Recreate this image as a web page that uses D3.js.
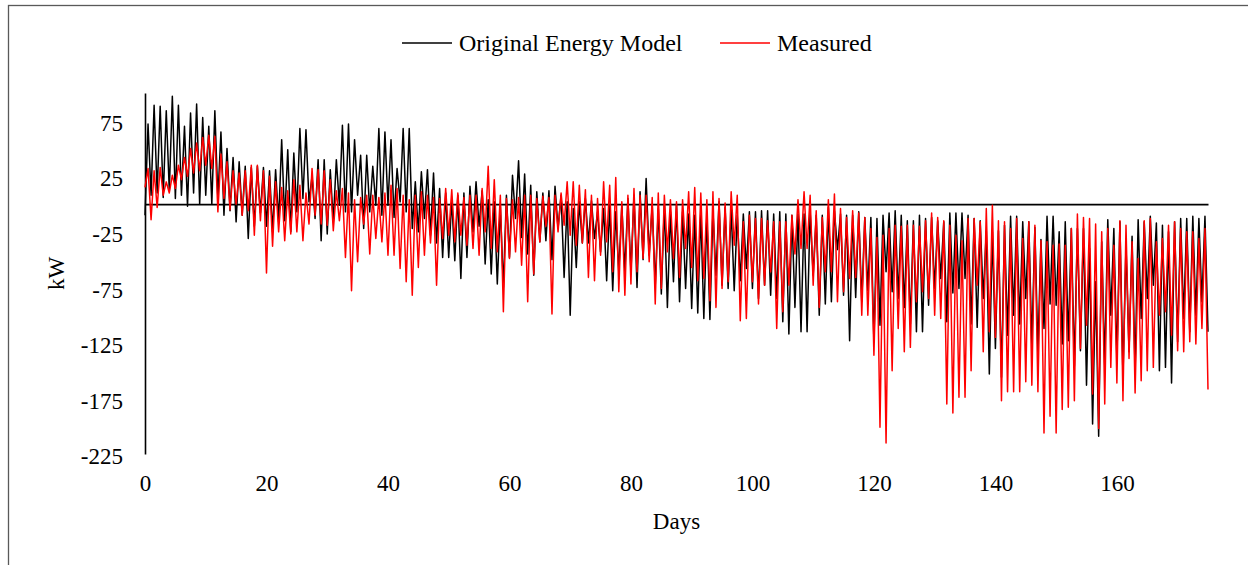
<!DOCTYPE html>
<html lang="en">
<head>
<meta charset="utf-8">
<script type="text/javascript" src="https://cdn.jsdelivr.net/npm/d3@7/dist/d3.min.js"></script>
<title>Original Energy Model vs Measured</title>
<style>
	body { margin: 0; background: #fff; }
	text { font-family: "Liberation Serif", "Times New Roman", serif; fill: #000; }
</style>
</head>
<body>
<svg width="1248" height="565"></svg>
<script type="text/javascript">

// one sample every half day: daily low, daily high, ...
var step = 0.5;

var originalModel = [
	-10,72, 8,89, 10,88, 6,84, 12,97, 5,89, 8,70, -2,82, 10,90, 0,78,
	8,70, 0,84, 5,65, -10,50, -6,42, -16,38, -10,34, -31,33, -20,34, -8,33,
	-20,30, -25,31, -16,58, -15,49, -25,46, -7,68, 5,67, 2,25, -13,40, -33,40,
	-27,31, -16,40, -1,71, -7,72, -7,58, 8,44, -22,44, -7,34, -1,68, -10,65,
	-1,58, -12,32, 2,68, -7,68, -22,20, -25,29, -13,31, -28,28, -35,14, -48,10,
	-48,4, -51,8, -67,10, -48,16, -25,20, -20,12, -54,4, -63,2, -72,-2, -75,8,
	-48,26, -13,39, -30,27, -45,17, -64,11, -34,10, -33,12, -50,16, -22,8, -66,2,
	-100,-4, -57,2, -35,5, -35,3, -31,-7, -43,-4, -69,-1, -78,-7, -61,-1, -61,5,
	-61,8, -75,11, -50,23, -46,-1, -73,-4, -81,-1, -93,-7, -70,-1, -88,-7, -76,-9,
	-94,-10, -98,-7, -103,-10, -104,-6, -64,2, -73,-3, -76,-4, -78,-10, -69,-9, -58,-7,
	-76,-7, -85,-6, -73,-6, -82,-9, -85,-7, -106,-9, -117,-10, -93,-9, -115,-9, -115,-7,
	-64,-10, -100,-10, -90,-3, -88,-6, -41,-9, -82,-10, -123,-10, -84,-7, -88,-12, -78,-12,
	-124,-13, -109,-10, -61,-8, -79,-6, -85,-10, -93,-15, -108,-15, -115,-10, -115,-13, -91,-12,
	-76,-15, -67,-16, -106,-8, -80,-8, -76,-8, -67,-10, -108,-13, -111,-15, -85,-24, -153,-25,
	-130,-24, -156,-19, -118,-11, -100,-11, -108,-16, -85,-16, -127,-21, -133,-32, -112,-11, -90,-11,
	-91,-25, -126,-16, -123,-22, -146,-22, -132,-22, -163,-40, -198,-70, -209,-34, -145,-14, -100,-22,
	-140,-16, -156,-37, -133,-29, -150,-14, -103,-16, -85,-11, -73,-17, -150,-19, -147,-25, -161,-16,
	-124,-13, -103,-13, -115,-11, -100,-13, -88,-11, -115
];

var measured = [
	15,32, -14,30, -3,33, 8,20, 10,26, 14,35, 22,42, 25,50, 28,55, 30,60,
	35,62, 32,61, -7,45, 5,38, -5,30, 0,28, -10,30, -6,35, -28,35, -15,30,
	-62,25, -38,20, -25,15, -33,12, -27,22, -25,17, -33,10, -18,32, -10,31, -18,30,
	-19,22, -24,12, -15,14, -48,10, -78,4, -52,6, -18,8, -45,8, -31,6, -34,10,
	-46,17, -46,14, -58,8, -70,4, -82,8, -57,11, -46,8, -35,6, -73,5, -31,14,
	-28,13, -34,10, -28,6, -37,8, -40,8, -46,14, -25,34, -40,22, -43,8, -97,5,
	-49,4, -43,6, -55,8, -88,8, -63,5, -34,7, -20,6, -99,8, -25,10, -19,20,
	-28,20, -37,17, -35,13, -66,8, -69,5, -46,20, -34,17, -61,24, -79,2, -82,8,
	-72,14, -61,8, -49,8, -52,6, -90,10, -76,8, -43,4, -49,2, -66,4, -40,11,
	-57,15, -69,10, -67,4, -87,11, -93,5, -76,1, -70,11, -37,8, -105,-16, -103,-10,
	-70,-13, -90,-13, -73,-15, -61,-16, -112,-16, -97,-16, -73,-10, -45,4, -40,11, -40,8,
	-73,-6, -93,-12, -61,4, -61,9, -88,-4, -79,-12, -67,-6, -66,-8, -100,-12, -100,-22,
	-136,-30, -201,-28, -215,-22, -150,-19, -112,-20, -133,-19, -129,-19, -88,-20, -79,-15, -85,-8,
	-100,-12, -103,-15, -180,-19, -188,-28, -174,-33, -174,-13, -150,-13, -73,-16, -133,-4, -115,-1,
	-120,-15, -177,-16, -169,-22, -169,-13, -169,-31, -160,-16, -163,-19, -169,-33, -206,-34, -191,-37,
	-206,-36, -185,-37, -183,-22, -177,-9, -130,-12, -109,-13, -171,-18, -202,-25, -180,-22, -147,-37,
	-161,-15, -177,-19, -139,-34, -170,-49, -159,-15, -150,-13, -147,-34, -100,-31, -97,-19, -118,-16,
	-132,-22, -133,-25, -124,-25, -126,-31, -112,-22, -167
];

var seriesNames = ["Original Energy Model", "Measured"];
var seriesColors = ["#000000", "#ff0000"];
var xTicks = [0, 20, 40, 60, 80, 100, 120, 140, 160];
var yTicks = [-225, -175, -125, -75, -25, 25, 75];

var margin = {top: 93, right: 40, bottom: 111, left: 145};
var width = 1208 - margin.left;
var height = 454 - margin.top;

var root = d3.select("svg");

// chart frame
root.append("rect")
	.attr("x", 8.5).attr("y", 5.5)
	.attr("width", 1260).attr("height", 580)
	.attr("fill", "none")
	.attr("stroke", "#595959")
	.attr("stroke-width", 1.3);

var svg = root.append("g")
	.attr("transform", "translate(" + margin.left + "," + margin.top + ")");

var x = d3.scaleLinear()
	.domain([0, 175])
	.range([0, width]);

var y = d3.scaleLinear()
	.domain([-225, 100])
	.range([height, 0]);

// value axis (plain hyphen for negatives, like the original)
var yAxis = svg.append("g")
	.call(d3.axisLeft(y).tickValues(yTicks)
		.tickFormat(function(d) { return String(d); })
		.tickSize(0).tickSizeOuter(0).tickPadding(22));
yAxis.select(".domain").attr("stroke", "#000").attr("stroke-width", 1.6);
yAxis.selectAll("text")
	.style("font-family", "'Liberation Serif', 'Times New Roman', serif")
	.style("font-size", "23px")
	.attr("dy", "0.42em");

// category axis line crossing at zero
var xLine = svg.append("g")
	.attr("transform", "translate(0," + y(0) + ")")
	.call(d3.axisBottom(x).tickValues([]).tickSizeOuter(0));
xLine.select(".domain").attr("stroke", "#000").attr("stroke-width", 1.6);

// category labels sit at the bottom
var xAxis = svg.append("g")
	.attr("transform", "translate(0," + (height + 21) + ")")
	.call(d3.axisBottom(x).tickValues(xTicks).tickSize(0).tickPadding(0));
xAxis.select(".domain").remove();
xAxis.selectAll("text")
	.style("font-family", "'Liberation Serif', 'Times New Roman', serif")
	.style("font-size", "23px");

var line = d3.line()
	.x(function(d, i) { return x(i * step); })
	.y(function(d) { return y(d); });

[originalModel, measured].forEach(function(values, k) {
	svg.append("path")
		.datum(values)
		.attr("fill", "none")
		.attr("stroke", seriesColors[k])
		.attr("stroke-width", 1.5)
		.attr("stroke-linejoin", "round")
		.attr("d", line);
});

// axis titles
svg.append("text")
	.attr("x", width / 2)
	.attr("y", height + 75)
	.attr("text-anchor", "middle")
	.style("font-size", "23px")
	.text("Days");

svg.append("text")
	.attr("transform", "translate(" + (64 - margin.left) + "," + (height / 2) + ") rotate(-90)")
	.attr("text-anchor", "middle")
	.style("font-size", "23px")
	.text("kW");

// legend
var legendX = [402, 720];
var legend = root.append("g");
seriesNames.forEach(function(name, k) {
	legend.append("line")
		.attr("x1", legendX[k]).attr("x2", legendX[k] + 50)
		.attr("y1", 43).attr("y2", 43)
		.attr("stroke", seriesColors[k])
		.attr("stroke-width", 1.5);
	legend.append("text")
		.attr("x", legendX[k] + 57)
		.attr("y", 51)
		.style("font-size", "24px")
		.text(name);
});

</script>
</body>
</html>
